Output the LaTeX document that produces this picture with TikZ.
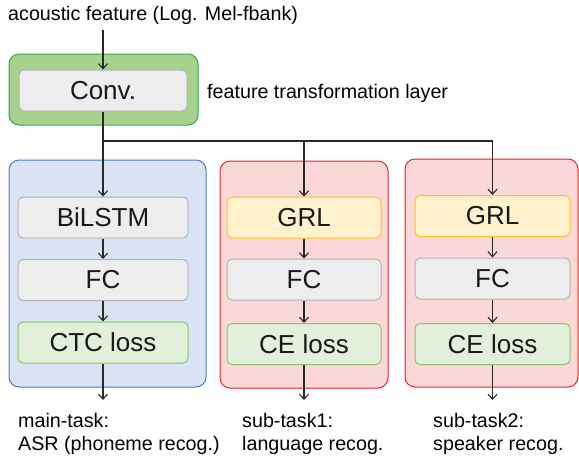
\documentclass[tikz,border=0pt]{standalone}
\usepackage{fontspec}
\setmainfont{Liberation Sans}
\usetikzlibrary{arrows.meta}

\definecolor{grpgreenfill}{RGB}{169,209,142}
\definecolor{grpgreenline}{RGB}{40,175,70}
\definecolor{grpbluefill}{RGB}{218,227,243}
\definecolor{grpblueline}{RGB}{75,120,200}
\definecolor{grpredfill}{RGB}{250,216,216}
\definecolor{grpredline}{RGB}{245,30,35}
\definecolor{boxgrayfill}{RGB}{237,237,237}
\definecolor{boxgrayline}{RGB}{178,178,178}
\definecolor{boxyellowfill}{RGB}{255,242,204}
\definecolor{boxyellowline}{RGB}{250,195,40}
\definecolor{boxgreenfill}{RGB}{226,239,218}
\definecolor{boxgreenline}{RGB}{140,195,100}
\definecolor{wire}{RGB}{40,40,40}

\tikzset{
  grp/.style={rectangle, rounded corners=10pt, line width=1pt, inner sep=0pt},
  blk/.style={rectangle, rounded corners=5pt, line width=1pt, inner sep=0pt,
    minimum height=41pt, font=\fontsize{26}{30}\selectfont, text=black!90},
  graybox/.style={blk, fill=boxgrayfill, draw=boxgrayline},
  yellowbox/.style={blk, fill=boxyellowfill, draw=boxyellowline},
  greenbox/.style={blk, fill=boxgreenfill, draw=boxgreenline},
  lbl/.style={font=\fontsize{19.7}{22.5}\selectfont, inner sep=0pt, align=left},
  flow/.style={draw=wire, line width=1.1pt, -{Straight Barb[length=5pt,width=9pt]}},
  wireline/.style={draw=wire, line width=1.1pt},
}

\begin{document}
\begin{tikzpicture}[x=1pt, y=-1pt]
\useasboundingbox (0,0) rectangle (579,459);

% group backgrounds
\draw[grp, fill=grpgreenfill, draw=grpgreenline] (9,54) rectangle (198,125);
\draw[grp, fill=grpbluefill, draw=grpblueline] (9,160) rectangle (206,387);
\draw[grp, fill=grpredfill, draw=grpredline] (220,161) rectangle (388,388);
\draw[grp, fill=grpredfill, draw=grpredline] (405,159) rectangle (578,387);

% input and feature transformation
\node[lbl, anchor=base west] (input) at (8,20) {acoustic feature (Log. Mel-fbank)};
\node[graybox, minimum width=168pt] (conv) at (103,90.5) {Conv.};
\node[lbl, anchor=base west] (ftl) at (207,98) {feature transformation layer};

% main task branch
\node[graybox, minimum width=170pt] (bilstm) at (103,217.5) {BiLSTM};
\node[graybox, minimum width=170pt] (fc1) at (103,280) {FC};
\node[greenbox, minimum width=170pt] (ctc) at (103,342.5) {CTC loss};

% sub task 1 branch
\node[yellowbox, minimum width=154pt] (grl1) at (304,217.5) {GRL};
\node[graybox, minimum width=154pt] (fc2) at (304,279.5) {FC};
\node[greenbox, minimum width=154pt] (ce1) at (304,344) {CE loss};

% sub task 2 branch
\node[yellowbox, minimum width=155pt] (grl2) at (492.5,216) {GRL};
\node[graybox, minimum width=155pt] (fc3) at (492.5,278.5) {FC};
\node[greenbox, minimum width=155pt] (ce2) at (492.5,344) {CE loss};

% task labels (base anchor sits on the last line)
\node[lbl, anchor=base west] (out1) at (18,450) {main-task:\\ASR (phoneme recog.)};
\node[lbl, anchor=base west] (out2) at (242,450) {sub-task1:\\language recog.};
\node[lbl, anchor=base west] (out3) at (433,450) {sub-task2:\\speaker recog.};

% connectors
\coordinate (split) at (103,141);
\coordinate (tap1) at (304,141);
\coordinate (tap2) at (492.5,141);
\draw[flow] (103,30) -- (conv.north);
\draw[flow] (conv.south) -- (bilstm.north);
\draw[wireline] (split) -- (tap2);
\draw[flow] (tap1) -- (grl1.north);
\draw[flow] (tap2) -- (grl2.north);

\draw[flow] (bilstm) -- (fc1);
\draw[flow] (fc1) -- (ctc);
\draw[flow] (grl1) -- (fc2);
\draw[flow] (fc2) -- (ce1);
\draw[flow] (grl2) -- (fc3);
\draw[flow] (fc3) -- (ce2);

\coordinate (end1) at (103,400);
\coordinate (end2) at (304,400);
\coordinate (end3) at (492.5,400);
\draw[flow] (ctc.south) -- (end1);
\draw[flow] (ce1.south) -- (end2);
\draw[flow] (ce2.south) -- (end3);
\end{tikzpicture}
\end{document}
